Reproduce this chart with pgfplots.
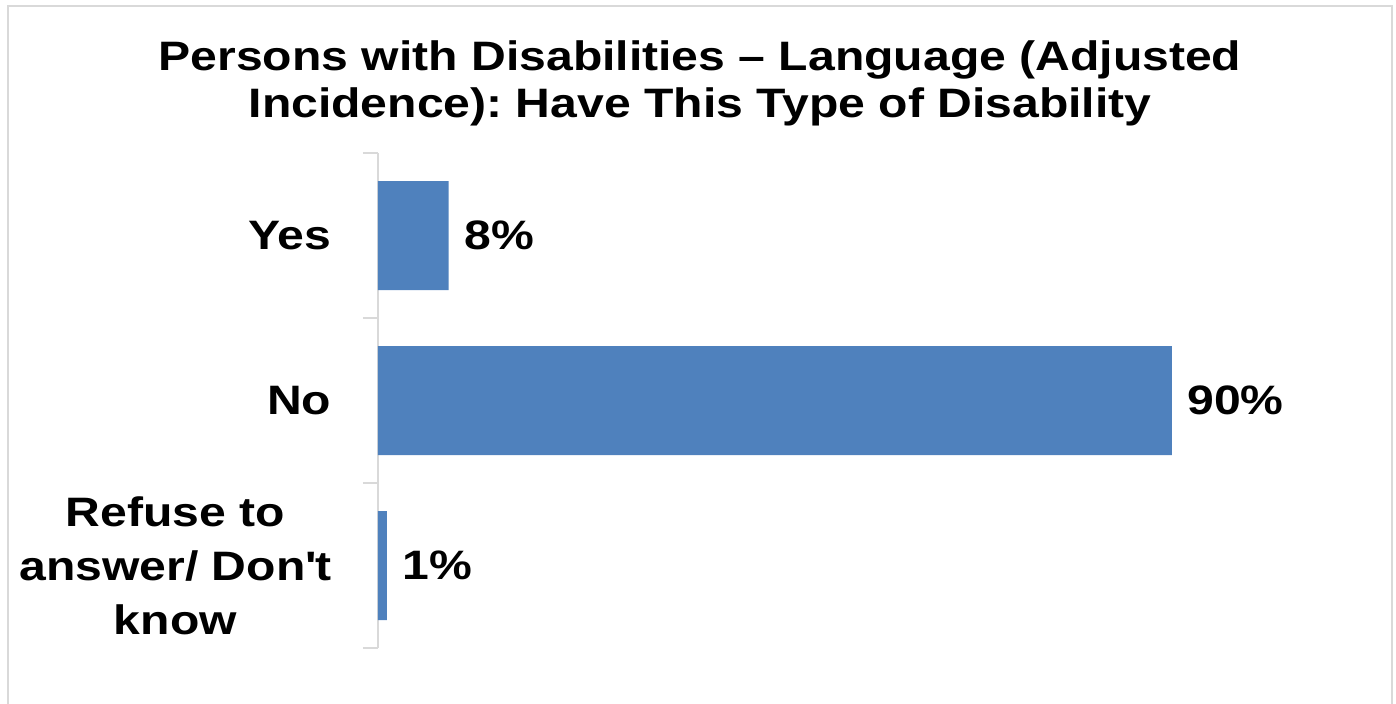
\documentclass[border=0pt]{standalone}
\usepackage{pgfplots}
\pgfplotsset{compat=1.18}
\usepackage{fontspec}
\setmainfont{Liberation Sans}[FakeStretch=1.17]
\definecolor{barblue}{HTML}{4F81BD}
\definecolor{framegray}{HTML}{D9D9D9}
\newcommand{\chartfont}{\fontsize{11.7}{15.4}\selectfont\bfseries}
\frenchspacing
\begin{document}
\begin{tikzpicture}
\useasboundingbox (0,0) rectangle (13.96,7.04);
% outer frame (bottom edge runs off the page)
\draw[framegray, line width=0.025cm] (0.08,-0.3) -- (0.08,6.98) -- (13.92,6.98) -- (13.92,-0.3);
% title
\node[anchor=base, font=\chartfont, inner sep=0pt] at (7.0,6.33) {Persons with Disabilities – Language (Adjusted};
\node[anchor=base, font=\chartfont, inner sep=0pt] at (7.0,5.86) {Incidence): Have This Type of Disability};
\begin{axis}[
    at={(3.78cm,0.56cm)}, anchor=south west,
    scale only axis, width=8.82cm, height=4.95cm,
    xbar, bar width=1.09cm,
    xmin=0, xmax=100, ymin=0.5, ymax=3.5,
    enlargelimits=false, y dir=reverse, clip=false,
    axis x line=none, axis y line*=left,
    y axis line style={framegray, line width=0.02cm},
    xtick=\empty,
    ytick={1,2,3},
    yticklabels={Yes,No,{Refuse to\\answer/ Don\textquotesingle t\\know}},
    minor ytick={0.5,1.5,2.5,3.5},
    tick align=outside, major tick length=0pt, minor tick length=0.15cm,
    tick style={framegray, line width=0.02cm},
    yticklabel style={align=center, font=\chartfont, inner sep=0pt, xshift=-0.46cm},
    point meta=x,
    nodes near coords={\pgfmathprintnumber[assume math mode=true]{\pgfplotspointmeta}\%},
    every node near coord/.append style={anchor=west, font=\chartfont, inner sep=0pt, xshift=0.15cm, text=black},
]
\addplot[fill=barblue, draw=none] coordinates {(8,1) (90,2) (1,3)};
\end{axis}
\end{tikzpicture}
\end{document}
